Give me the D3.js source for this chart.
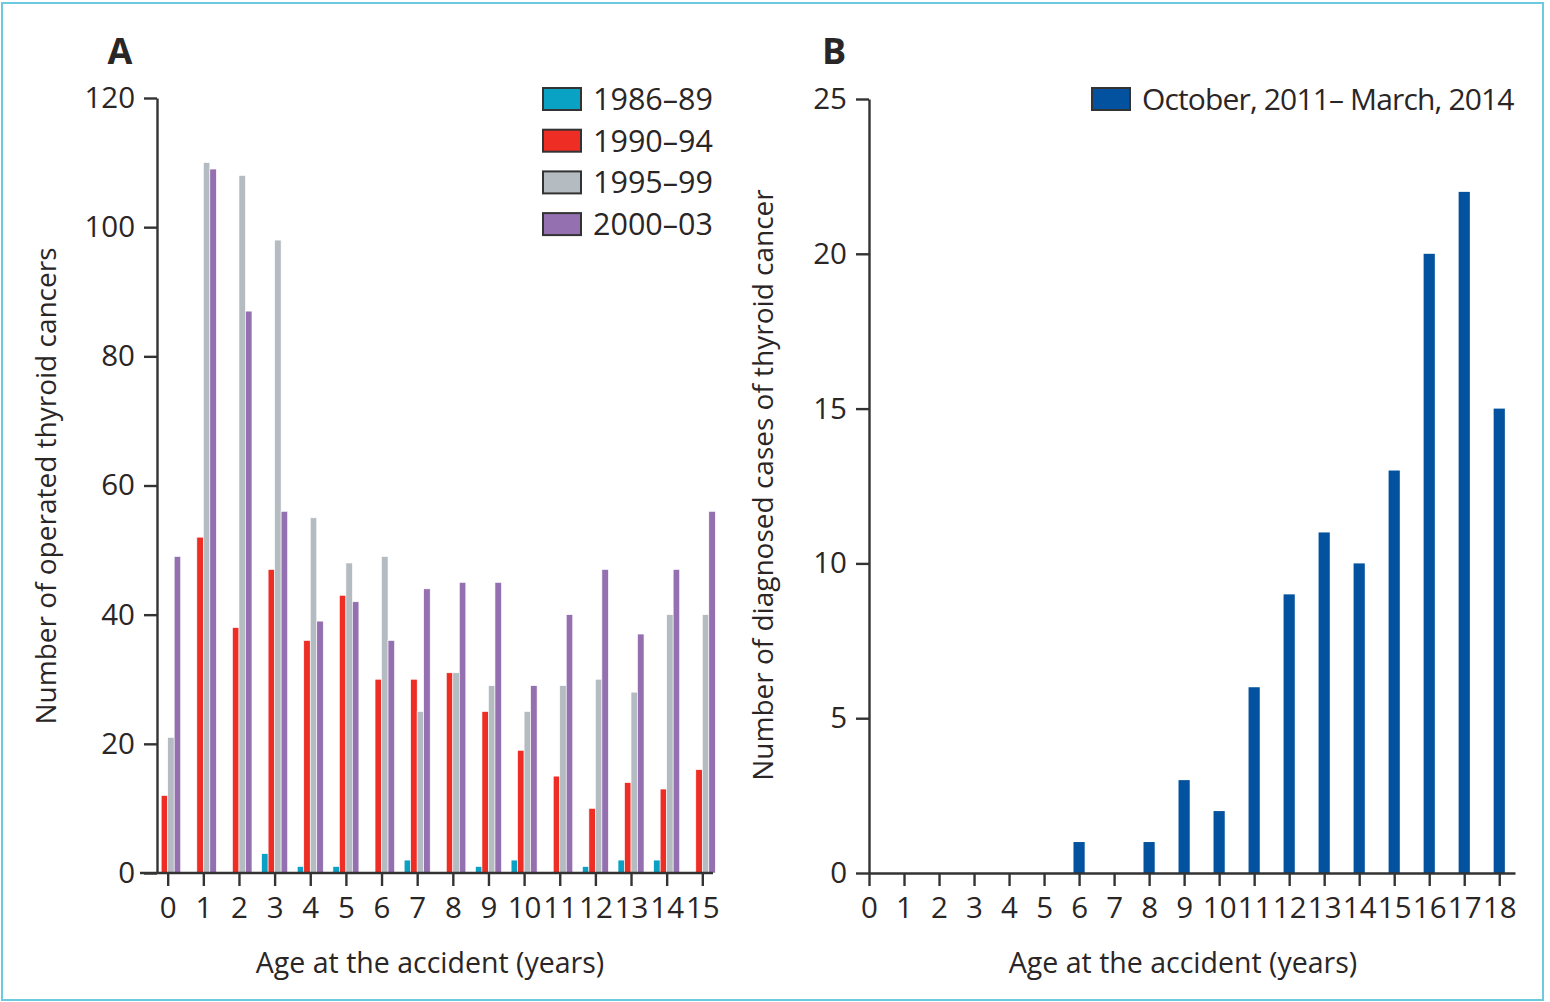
<!DOCTYPE html>
<html>
<head>
<meta charset="utf-8">
<script src="https://cdn.jsdelivr.net/npm/d3@7"></script>
<style>
  body { margin: 0; background: #fff; }
  svg text { font-family: "Open Sans", "Noto Sans", sans-serif; fill: #2b2626; }
</style>
</head>
<body>
<svg id="chart" width="1550" height="1002"></svg>
<script>
// Panel A : operated thyroid cancers by age at the accident
var agesA = d3.range(0, 16);
var periods = ["1986–89", "1990–94", "1995–99", "2000–03"];
var cases8689 = [0, 0, 0, 3, 1, 1, 0, 2, 0, 1, 2, 0, 1, 2, 2, 0];
var cases9094 = [12, 52, 38, 47, 36, 43, 30, 30, 31, 25, 19, 15, 10, 14, 13, 16];
var cases9599 = [21, 110, 108, 98, 55, 48, 49, 25, 31, 29, 25, 29, 30, 28, 40, 40];
var cases0003 = [49, 109, 87, 56, 39, 42, 36, 44, 45, 45, 29, 40, 47, 37, 47, 56];
var ticksA = [0, 20, 40, 60, 80, 100, 120];

// Panel B : diagnosed cases (Fukushima screening)
var agesB = d3.range(0, 19);
var casesB = [0, 0, 0, 0, 0, 0, 1, 0, 1, 3, 2, 6, 9, 11, 10, 13, 20, 22, 15];
var ticksB = [0, 5, 10, 15, 20, 25];
var labelB = "October, 2011– March, 2014";

var colorsA = ["#0aa2c4", "#ee2e24", "#b4bbc1", "#9470b1"];
var colorB = "#02529f";
var axisColor = "#333";

var svg = d3.select("#chart");

svg.append("rect")
  .attr("x", 2).attr("y", 3)
  .attr("width", 1541).attr("height", 997)
  .attr("fill", "#fff")
  .attr("stroke", "#6cc9e0")
  .attr("stroke-width", 2);

function styleAxis(g) {
  g.selectAll("path").attr("stroke", axisColor).attr("stroke-width", 2.4);
  g.selectAll("line").attr("stroke", axisColor).attr("stroke-width", 2.4);
  g.selectAll("text")
    .style("font-family", "'Open Sans', sans-serif")
    .style("font-size", "29.5px")
    .attr("fill", "#2b2626");
}

// ---------- Panel A ----------
var yA = d3.scaleLinear().domain([0, 120]).range([873, 98]);
var xA = d3.scalePoint().domain(agesA).range([157, 713]).padding(0.3);
var inner = d3.scaleBand().domain(periods).range([-13, 13]);

var seriesA = [cases8689, cases9094, cases9599, cases0003];
var rowsA = [];
periods.forEach(function(p, i) {
  agesA.forEach(function(a, j) {
    rowsA.push({ period: p, age: a, value: seriesA[i][j], color: colorsA[i] });
  });
});

svg.append("g").attr("class", "bars-a")
  .selectAll("rect")
  .data(rowsA)
  .enter().append("rect")
  .attr("x", function(d) { return xA(d.age) + inner(d.period); })
  .attr("y", function(d) { return yA(d.value); })
  .attr("width", inner.bandwidth())
  .attr("height", function(d) { return yA(0) - yA(d.value); })
  .attr("fill", function(d) { return d.color; })
  .attr("stroke", "#fff")
  .attr("stroke-width", 0.6);

var gxA = svg.append("g")
  .attr("transform", "translate(0,873)")
  .call(d3.axisBottom(xA).tickSize(13).tickPadding(11).tickSizeOuter(0));
gxA.select("path").attr("d", "M140,0H713");
styleAxis(gxA);

var gyA = svg.append("g")
  .attr("transform", "translate(157,0)")
  .call(d3.axisLeft(yA).tickValues(ticksA).tickSize(13).tickPadding(9).tickSizeOuter(0));
styleAxis(gyA);

svg.append("text")
  .attr("x", 120).attr("y", 64)
  .attr("text-anchor", "middle")
  .style("font-size", "36px").style("font-weight", "bold")
  .text("A");

svg.append("text")
  .attr("x", 430).attr("y", 973)
  .attr("text-anchor", "middle")
  .style("font-size", "28.5px")
  .text("Age at the accident (years)");

svg.append("text")
  .attr("transform", "translate(56,486) rotate(-90)")
  .attr("text-anchor", "middle")
  .style("font-size", "28px")
  .text("Number of operated thyroid cancers");

var legA = svg.append("g").selectAll("g")
  .data(periods)
  .enter().append("g")
  .attr("transform", function(d, i) { return "translate(543," + (88 + i * 41.7) + ")"; });

legA.append("rect")
  .attr("width", 38).attr("height", 22)
  .attr("fill", function(d, i) { return colorsA[i]; })
  .attr("stroke", "#333").attr("stroke-width", 2);

legA.append("text")
  .attr("x", 50).attr("y", 11)
  .attr("dy", "0.36em")
  .style("font-size", "30.5px")
  .text(function(d) { return d; });

// ---------- Panel B ----------
var yB = d3.scaleLinear().domain([0, 25]).range([873, 99]);
var xB = d3.scaleLinear().domain([0, 18.45]).range([869, 1515]);

svg.append("g").attr("class", "bars-b")
  .selectAll("rect")
  .data(casesB)
  .enter().append("rect")
  .attr("x", function(d, i) { return xB(agesB[i]) - 5.6; })
  .attr("y", function(d) { return yB(d); })
  .attr("width", 11.2)
  .attr("height", function(d) { return yB(0) - yB(d); })
  .attr("fill", colorB);

var gxB = svg.append("g")
  .attr("transform", "translate(0,873)")
  .call(d3.axisBottom(xB).tickValues(agesB).tickFormat(d3.format("d")).tickSize(13).tickPadding(11).tickSizeOuter(0));
styleAxis(gxB);

var gyB = svg.append("g")
  .attr("transform", "translate(869,0)")
  .call(d3.axisLeft(yB).tickValues(ticksB).tickSize(13).tickPadding(9).tickSizeOuter(0));
styleAxis(gyB);

svg.append("text")
  .attr("x", 834).attr("y", 64)
  .attr("text-anchor", "middle")
  .style("font-size", "36px").style("font-weight", "bold")
  .text("B");

svg.append("text")
  .attr("x", 1183).attr("y", 973)
  .attr("text-anchor", "middle")
  .style("font-size", "28.5px")
  .text("Age at the accident (years)");

svg.append("text")
  .attr("transform", "translate(773,485) rotate(-90)")
  .attr("text-anchor", "middle")
  .style("font-size", "28px")
  .text("Number of diagnosed cases of thyroid cancer");

svg.append("rect")
  .attr("x", 1092).attr("y", 88)
  .attr("width", 38).attr("height", 22)
  .attr("fill", colorB)
  .attr("stroke", "#333").attr("stroke-width", 2);

svg.append("text")
  .attr("x", 1142).attr("y", 99)
  .attr("dy", "0.36em")
  .style("font-size", "30px")
  .style("letter-spacing", "-0.85px")
  .text(labelB);
</script>
</body>
</html>
